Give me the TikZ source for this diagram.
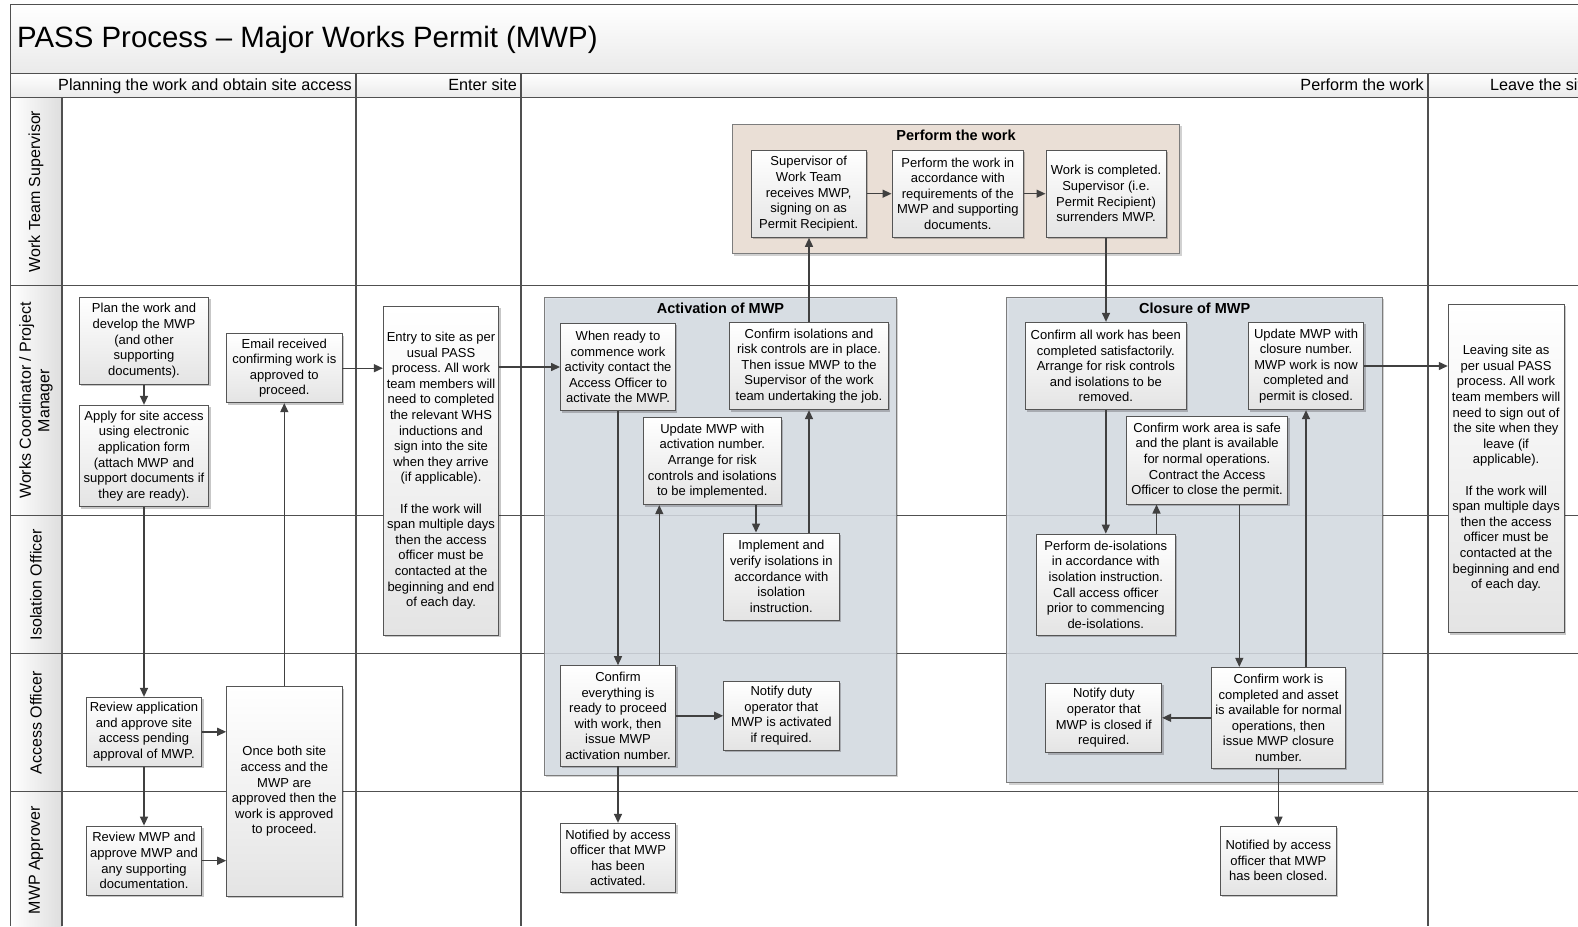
\documentclass[tikz,border=0pt]{standalone}
\usepackage{fontspec}
\setmainfont{Liberation Sans}
\frenchspacing
\usetikzlibrary{arrows.meta,shadows}
\definecolor{lineC}{RGB}{80,80,80}
\definecolor{arrC}{RGB}{64,64,64}
\definecolor{boxB}{RGB}{85,85,85}
\definecolor{boxBot}{RGB}{228,228,228}
\definecolor{actF}{RGB}{216,222,230}
\definecolor{perfF}{RGB}{234,223,214}
\definecolor{contB}{RGB}{125,125,125}
\definecolor{bandBot}{RGB}{234,234,234}
\definecolor{colR}{RGB}{222,222,222}
\tikzset{
  lane/.style={draw=lineC, line width=1.3pt},
  procbox/.style={draw=boxB, line width=0.9pt, top color=white, bottom color=boxBot,
    inner sep=0pt, align=center, font=\fontsize{13}{15.6}\selectfont,
    drop shadow={shadow xshift=1.8pt, shadow yshift=-1.8pt, fill=black, opacity=0.22}},
  sz/.style 2 args={minimum width=#1, minimum height=#2},
  cont/.style={draw=contB, line width=0.9pt, inner sep=0pt,
    drop shadow={shadow xshift=1.8pt, shadow yshift=-1.8pt, fill=black, opacity=0.18}},
  conttitle/.style={inner sep=0pt, font=\fontsize{14.5}{17}\selectfont\bfseries},
  hdr/.style={inner sep=0pt, font=\fontsize{16.2}{19}\selectfont},
  lanelbl/.style={inner sep=0pt, align=center, rotate=90, font=\fontsize{16}{18.5}\selectfont},
  arr/.style={draw=arrC, line width=1.4pt, -{Triangle[length=9pt,width=8pt]}}
}
\begin{document}
\begin{tikzpicture}[x=1pt,y=-1pt]
\useasboundingbox (0,0) rectangle (1578,926);
% background bands
\shade[top color=white, bottom color=bandBot] (10.3,4.7) rectangle (1578,73.3);
\shade[top color=white, bottom color=bandBot] (10.3,73.3) rectangle (1578,97.3);
\shade[left color=white, right color=colR] (10.3,97.3) rectangle (62,926);
% title and headers
\node[anchor=base west, inner sep=0pt, font=\fontsize{29.4}{34}\selectfont] (title) at (17,47) {PASS Process – Major Works Permit (MWP)};
\node[hdr, anchor=base east] (h1) at (352,90.5) {Planning the work and obtain site access};
\node[hdr, anchor=base east] (h2) at (517,90.5) {Enter site};
\node[hdr, anchor=base east] (h3) at (1424,90.5) {Perform the work};
\node[hdr, anchor=base west] (h4) at (1490,90.5) {Leave the site};
% lane labels
\node[lanelbl] (l1) at (36,191.5) {Work Team Supervisor};
\node[lanelbl] (l2) at (36,400.6) {Works Coordinator / Project\\Manager};
\node[lanelbl] (l3) at (36,584.6) {Isolation Officer};
\node[lanelbl] (l4) at (36,722.7) {Access Officer};
\node[lanelbl] (l5) at (36,860) {MWP Approver};
% grid lines
\draw[lane] (10.3,4.7) -- (1578,4.7);
\draw[lane] (10.3,4.7) -- (10.3,926);
\draw[lane] (10.3,73.3) -- (1578,73.3);
\draw[lane] (10.3,97.3) -- (1578,97.3);
\draw[lane] (62,97.3) -- (62,926);
\draw[lane] (356,73.3) -- (356,926);
\draw[lane] (521,73.3) -- (521,926);
\draw[lane] (1428,73.3) -- (1428,926);
\draw[lane] (10.3,285.7) -- (1578,285.7);
\draw[lane] (10.3,515.5) -- (1578,515.5);
\draw[lane] (10.3,653.7) -- (1578,653.7);
\draw[lane] (10.3,791.7) -- (1578,791.7);
% containers
\node[cont, fill=perfF, minimum width=447.3pt, minimum height=129.4pt] (perfcont) at (956.15,189) {};
\node[cont, fill=actF, fill opacity=0.86, minimum width=352pt, minimum height=478pt] (actcont) at (720.5,536.3) {};
\node[cont, fill=actF, fill opacity=0.86, minimum width=375.7pt, minimum height=485.4pt] (clocont) at (1194.75,540) {};
\node[conttitle] (perftitle) at (956,135.8) {Perform the work};
\node[conttitle] (acttitle) at (720.5,308.3) {Activation of MWP};
\node[conttitle] (clotitle) at (1194.7,308) {Closure of MWP};
% planning column
\node[procbox, sz={129.4pt}{87pt}] (plan) at (144,340.8) {Plan the work and\\develop the MWP\\(and other\\supporting\\documents).};
\node[procbox, sz={129.4pt}{101.4pt}] (apply) at (144,456) {Apply for site access\\using electronic\\application form\\(attach MWP and\\support documents if\\they are ready).};
\node[procbox, sz={115.3pt}{69pt}] (email) at (284.3,368.2) {Email received\\confirming work is\\approved to\\proceed.};
\node[procbox, sz={115.4pt}{69pt}] (reviewapp) at (144,731.8) {Review application\\and approve site\\access pending\\approval of MWP.};
\node[procbox, sz={115.4pt}{69.3pt}] (reviewmwp) at (144,860.7) {Review MWP and\\approve MWP and\\any supporting\\documentation.};
\node[procbox, sz={115.3pt}{209.6pt}] (onceboth) at (284.3,791.5) {Once both site\\access and the\\MWP are\\approved then the\\work is approved\\to proceed.};
% enter site
\node[procbox, sz={115.4pt}{328.3pt}] (entry) at (441,470.8) {Entry to site as per\\usual PASS\\process. All work\\team members will\\need to completed\\the relevant WHS\\inductions and\\sign into the site\\when they arrive\\(if applicable).\\[15.6pt]If the work will\\span multiple days\\then the access\\officer must be\\contacted at the\\beginning and end\\of each day.};
% perform the work
\node[procbox, sz={115.4pt}{87.3pt}] (supervisor) at (808.7,193.7) {Supervisor of\\Work Team\\receives MWP,\\signing on as\\Permit Recipient.};
\node[procbox, sz={131.7pt}{87.3pt}] (performwork) at (957.8,193.7) {Perform the work in\\accordance with\\requirements of the\\MWP and supporting\\documents.};
\node[procbox, sz={120.1pt}{87.3pt}] (workdone) at (1106,193.7) {Work is completed.\\Supervisor (i.e.\\Permit Recipient)\\surrenders MWP.};
% activation
\node[procbox, sz={115pt}{87.4pt}] (whenready) at (618,367) {When ready to\\commence work\\activity contact the\\Access Officer to\\activate the MWP.};
\node[procbox, sz={159pt}{87.4pt}] (confiso) at (809,366) {Confirm isolations and\\risk controls are in place.\\Then issue MWP to the\\Supervisor of the work\\team undertaking the job.};
\node[procbox, sz={138pt}{87pt}] (updact) at (712.3,461.2) {Update MWP with\\activation number.\\Arrange for risk\\controls and isolations\\to be implemented.};
\node[procbox, sz={115.3pt}{87pt}] (implement) at (781.3,576.5) {Implement and\\verify isolations in\\accordance with\\isolation\\instruction.};
\node[procbox, sz={115.4pt}{100.3pt}] (confevery) at (618,715.8) {Confirm\\everything is\\ready to proceed\\with work, then\\issue MWP\\activation number.};
\node[procbox, sz={115.3pt}{68.3pt}] (notifyact) at (781.3,715.8) {Notify duty\\operator that\\MWP is activated\\if required.};
\node[procbox, sz={115.4pt}{69pt}] (notifiedact) at (618,857.8) {Notified by access\\officer that MWP\\has been\\activated.};
% closure
\node[procbox, sz={161.3pt}{87.4pt}] (confall) at (1105.8,366) {Confirm all work has been\\completed satisfactorily.\\Arrange for risk controls\\and isolations to be\\removed.};
\node[procbox, sz={115.5pt}{87.4pt}] (updclose) at (1306,366) {Update MWP with\\closure number.\\MWP work is now\\completed and\\permit is closed.};
\node[procbox, sz={161.2pt}{87.7pt}] (confarea) at (1207.1,460.2) {Confirm work area is safe\\and the plant is available\\for normal operations.\\Contract the Access\\Officer to close the permit.};
\node[procbox, sz={138.7pt}{101.3pt}] (deiso) at (1105.8,584.7) {Perform de-isolations\\in accordance with\\isolation instruction.\\Call access officer\\prior to commencing\\de-isolations.};
\node[procbox, sz={133.9pt}{101pt}] (confcomp) at (1278.5,717.8) {Confirm work is\\completed and asset\\is available for normal\\operations, then\\issue MWP closure\\number.};
\node[procbox, sz={115.8pt}{69.4pt}] (notifyclose) at (1103.8,718) {Notify duty\\operator that\\MWP is closed if\\required.};
\node[procbox, sz={115.4pt}{69.3pt}] (notifiedclose) at (1278.3,860.7) {Notified by access\\officer that MWP\\has been closed.};
% leave site
\node[procbox, sz={115.8pt}{328.7pt}] (leaving) at (1506.1,468.4) {Leaving site as\\per usual PASS\\process. All work\\team members will\\need to sign out of\\the site when they\\leave (if\\applicable).\\[15.6pt]If the work will\\span multiple days\\then the access\\officer must be\\contacted at the\\beginning and end\\of each day.};
% helper x positions
\coordinate (xa) at (659.3,0);
\coordinate (xb) at (756,0);
\coordinate (xc) at (1156.5,0);
\coordinate (xd) at (1239.3,0);
% connectors
\draw[arr] (plan.south) -- (apply.north);
\draw[arr] (apply.south) -- (reviewapp.north);
\draw[arr] (reviewapp.south) -- (reviewmwp.north);
\draw[arr] (reviewapp.east) -- (onceboth.west |- reviewapp.east);
\draw[arr] (reviewmwp.east) -- (onceboth.west |- reviewmwp.east);
\draw[arr] (onceboth.north) -- (email.south);
\draw[arr] (email.east) -- (entry.west |- email.east);
\draw[arr] (entry.east |- whenready.west) -- (whenready.west);
\draw[arr] (whenready.south) -- (confevery.north);
\draw[arr] (confevery.north -| xa) -- (updact.south -| xa);
\draw[arr] (updact.south -| xb) -- (implement.north -| xb);
\draw[arr] (implement.north -| confiso.south) -- (confiso.south);
\draw[arr] (confiso.north) -- (confiso.north |- supervisor.south);
\draw[arr] (supervisor.east) -- (performwork.west);
\draw[arr] (performwork.east) -- (workdone.west);
\draw[arr] (workdone.south) -- (workdone.south |- confall.north);
\draw[arr] (confall.south) -- (confall.south |- deiso.north);
\draw[arr] (deiso.north -| xc) -- (confarea.south -| xc);
\draw[arr] (confarea.south -| xd) -- (confcomp.north -| xd);
\draw[arr] (confcomp.north -| updclose.south) -- (updclose.south);
\draw[arr] (confcomp.west) -- (notifyclose.east |- confcomp.west);
\draw[arr] (confcomp.south) -- (confcomp.south |- notifiedclose.north);
\draw[arr] (confevery.east) -- (notifyact.west);
\draw[arr] (confevery.south) -- (notifiedact.north);
\draw[arr] (updclose.east) -- (leaving.west |- updclose.east);
\end{tikzpicture}
\end{document}
